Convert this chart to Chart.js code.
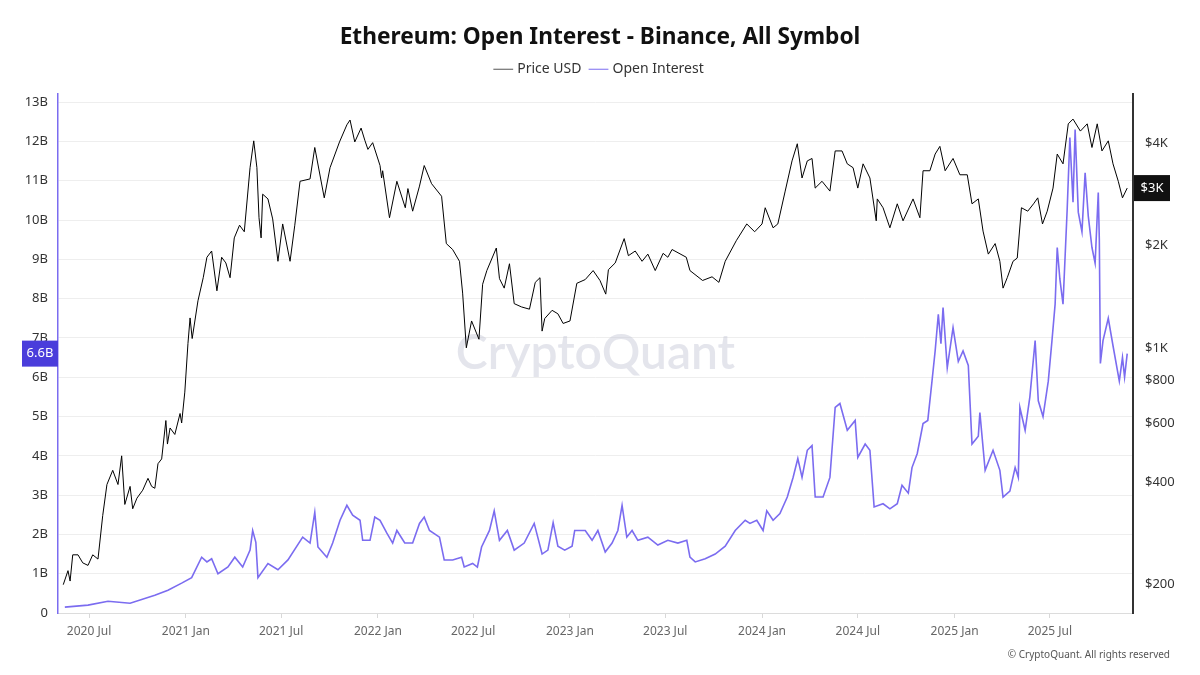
<!DOCTYPE html>
<html lang="en">
<head>
    <meta charset="UTF-8">
    <title>Ethereum: Open Interest - Binance, All Symbol</title>
    <script src="https://cdn.jsdelivr.net/npm/chart.js"></script>
    <style>
        html, body { margin: 0; padding: 0; background: #fff; }
        #wrap { width: 1200px; height: 675px; position: relative; }
    </style>
</head>
<body>
    <div id="wrap"><canvas id="oiChart"></canvas></div>

    <script>
        // ETH price (USD)
        const priceDates = [
            '2020-05-13','2020-05-22','2020-05-26','2020-05-31','2020-06-10','2020-06-19','2020-06-29','2020-07-08','2020-07-18','2020-07-27',
            '2020-08-04','2020-08-15','2020-08-25','2020-09-01','2020-09-07','2020-09-17','2020-09-22','2020-09-30','2020-10-11','2020-10-21',
            '2020-10-28','2020-11-03','2020-11-09','2020-11-16','2020-11-24','2020-11-27','2020-12-02','2020-12-11','2020-12-21','2020-12-24',
            '2020-12-30','2021-01-05','2021-01-09','2021-01-13','2021-01-24','2021-02-03','2021-02-10','2021-02-19','2021-03-01','2021-03-10',
            '2021-03-18','2021-03-26','2021-04-03','2021-04-13','2021-04-22','2021-05-03','2021-05-10','2021-05-16','2021-05-20','2021-05-24',
            '2021-05-27','2021-06-06','2021-06-15','2021-06-25','2021-07-04','2021-07-18','2021-07-27','2021-08-06','2021-08-25','2021-09-03',
            '2021-09-21','2021-10-02','2021-10-20','2021-11-03','2021-11-09','2021-11-18','2021-11-30','2021-12-07','2021-12-13','2021-12-22',
            '2022-01-05','2022-01-08','2022-01-10','2022-01-23','2022-02-06','2022-02-22','2022-02-27','2022-03-08','2022-03-21','2022-03-30',
            '2022-04-13','2022-05-02','2022-05-11','2022-05-23','2022-06-05','2022-06-11','2022-06-18','2022-06-28','2022-07-12','2022-07-19',
            '2022-07-27','2022-08-14','2022-08-20','2022-08-29','2022-09-08','2022-09-17','2022-10-01','2022-10-16','2022-10-27','2022-11-05',
            '2022-11-09','2022-11-14','2022-11-28','2022-12-09','2022-12-19','2023-01-01','2023-01-14','2023-01-30','2023-02-14','2023-02-27',
            '2023-03-10','2023-03-15','2023-03-28','2023-04-14','2023-04-22','2023-05-05','2023-05-18','2023-05-29','2023-06-12','2023-06-27',
            '2023-07-06','2023-07-14','2023-08-10','2023-08-17','2023-09-10','2023-09-28','2023-10-11','2023-10-23','2023-11-13','2023-12-03',
            '2023-12-18','2024-01-01','2024-01-07','2024-01-22','2024-01-31','2024-02-14','2024-02-27','2024-03-08','2024-03-17','2024-03-27',
            '2024-04-05','2024-04-11','2024-04-24','2024-05-09','2024-05-19','2024-06-01','2024-06-11','2024-06-22','2024-07-01','2024-07-11',
            '2024-07-24','2024-08-05','2024-08-07','2024-08-18','2024-08-31','2024-09-14','2024-09-25','2024-10-14','2024-10-27','2024-11-02',
            '2024-11-15','2024-11-25','2024-12-04','2024-12-14','2024-12-29','2025-01-11','2025-01-25','2025-02-03','2025-02-15','2025-02-24',
            '2025-03-06','2025-03-19','2025-03-28','2025-04-03','2025-04-11','2025-04-22','2025-04-30','2025-05-08','2025-05-20','2025-05-31',
            '2025-06-08','2025-06-17','2025-06-26','2025-07-07','2025-07-15','2025-07-26','2025-08-05','2025-08-14','2025-08-28','2025-09-10',
            '2025-09-19','2025-09-29','2025-10-08','2025-10-20','2025-10-29','2025-11-08','2025-11-16','2025-11-25'
        ];
        const priceValues = [
            200, 220, 205, 245, 245, 232, 228, 245, 238, 320,
            395, 435, 395, 480, 345, 390, 335, 360, 380, 412,
            390, 385, 455, 470, 610, 520, 580, 555, 640, 600,
            740, 1030, 1225, 1065, 1376, 1610, 1850, 1930, 1473, 1850,
            1780, 1610, 2110, 2300, 2200, 3400, 4080, 3400, 2420, 2110,
            2840, 2750, 2400, 1800, 2320, 1800, 2300, 3100, 3150, 3900,
            2770, 3400, 4050, 4550, 4700, 4050, 4450, 4100, 3850, 4030,
            3450, 3170, 3330, 2420, 3100, 2590, 2950, 2530, 3000, 3450,
            3050, 2800, 2030, 1950, 1800, 1450, 1000, 1200, 1060, 1540,
            1690, 1970, 1600, 1500, 1770, 1350, 1320, 1300, 1560, 1610,
            1120, 1220, 1290, 1260, 1180, 1200, 1550, 1590, 1690, 1580,
            1440, 1700, 1780, 2100, 1870, 1930, 1800, 1890, 1690, 1900,
            1850, 1950, 1850, 1690, 1580, 1620, 1560, 1800, 2070, 2320,
            2200, 2320, 2590, 2260, 2320, 2900, 3560, 4000, 3170, 3560,
            3620, 2960, 3100, 2900, 3810, 3810, 3490, 3400, 2960, 3490,
            3170, 2370, 2750, 2590, 2260, 2660, 2370, 2750, 2420, 3330,
            3330, 3730, 3930, 3330, 3620, 3240, 3240, 2660, 2750, 2210,
            1890, 2030, 1800, 1500, 1610, 1800, 1840, 2590, 2530, 2660,
            2770, 2320, 2530, 2960, 3730, 3490, 4580, 4730, 4360, 4580,
            3900, 4580, 3810, 4080, 3490, 3100, 2770, 2960
        ];

        // Binance open interest, billions USD
        const oiDates = [
            '2020-05-16','2020-06-29','2020-08-06','2020-09-17','2020-11-03','2020-11-28','2020-12-24','2021-01-12','2021-01-31','2021-02-10',
            '2021-02-19','2021-03-03','2021-03-22','2021-04-04','2021-04-19','2021-05-03','2021-05-08','2021-05-14','2021-05-18','2021-06-06',
            '2021-06-25','2021-07-14','2021-08-11','2021-08-25','2021-09-03','2021-09-09','2021-09-26','2021-10-07','2021-10-21','2021-11-03',
            '2021-11-14','2021-11-28','2021-12-03','2021-12-17','2021-12-26','2022-01-05','2022-01-18','2022-01-29','2022-02-06','2022-02-21',
            '2022-03-08','2022-03-21','2022-03-30','2022-04-09','2022-04-28','2022-05-07','2022-05-23','2022-06-09','2022-06-14','2022-06-30',
            '2022-07-09','2022-07-17','2022-08-01','2022-08-10','2022-08-20','2022-09-04','2022-09-17','2022-10-06','2022-10-25','2022-11-09',
            '2022-11-20','2022-11-30','2022-12-09','2022-12-22','2023-01-05','2023-01-10','2023-01-30','2023-02-12','2023-02-23','2023-03-09',
            '2023-03-22','2023-04-02','2023-04-10','2023-04-19','2023-04-29','2023-05-10','2023-05-29','2023-06-17','2023-07-06','2023-07-25',
            '2023-08-11','2023-08-17','2023-08-27','2023-09-15','2023-10-04','2023-10-23','2023-11-11','2023-11-30','2023-12-09','2023-12-22',
            '2024-01-03','2024-01-10','2024-01-22','2024-02-04','2024-02-18','2024-02-29','2024-03-09','2024-03-17','2024-03-27','2024-04-05',
            '2024-04-11','2024-04-26','2024-05-09','2024-05-19','2024-05-28','2024-06-11','2024-06-26','2024-07-01','2024-07-15','2024-07-24',
            '2024-08-01','2024-08-18','2024-08-31','2024-09-14','2024-09-23','2024-10-05','2024-10-12','2024-10-22','2024-11-02','2024-11-11',
            '2024-11-19','2024-11-25','2024-12-01','2024-12-06','2024-12-10','2024-12-18','2024-12-29','2025-01-08','2025-01-17','2025-01-27',
            '2025-02-03','2025-02-15','2025-02-18','2025-02-28','2025-03-15','2025-03-28','2025-04-03','2025-04-16','2025-04-26','2025-05-02',
            '2025-05-05','2025-05-15','2025-05-24','2025-06-03','2025-06-09','2025-06-18','2025-06-28','2025-07-05','2025-07-11','2025-07-15',
            '2025-07-20','2025-07-26','2025-08-03','2025-08-08','2025-08-14','2025-08-18','2025-08-24','2025-08-31','2025-09-06','2025-09-12',
            '2025-09-19','2025-09-25','2025-10-01','2025-10-03','2025-10-05','2025-10-10','2025-10-20','2025-10-29','2025-11-10','2025-11-16',
            '2025-11-20','2025-11-25'
        ];
        const oiValues = [
            0.15, 0.2, 0.3, 0.25, 0.45, 0.58, 0.76, 0.9, 1.42, 1.3,
            1.38, 1.0, 1.17, 1.42, 1.17, 1.6, 2.1, 1.8, 0.9, 1.26,
            1.1, 1.35, 1.93, 1.78, 2.56, 1.68, 1.42, 1.78, 2.36, 2.74,
            2.49, 2.36, 1.85, 1.85, 2.44, 2.36, 2.03, 1.78, 2.1, 1.78,
            1.78, 2.28, 2.44, 2.1, 1.93, 1.35, 1.35, 1.42, 1.17, 1.26,
            1.17, 1.68, 2.1, 2.6, 1.85, 2.1, 1.6, 1.78, 2.28, 1.5,
            1.6, 2.3, 1.7, 1.6, 1.7, 2.1, 2.1, 1.85, 2.1, 1.55,
            1.78, 2.1, 2.74, 1.93, 2.1, 1.85, 1.93, 1.73, 1.85, 1.78,
            1.85, 1.42, 1.3, 1.38, 1.5, 1.7, 2.1, 2.36, 2.28, 2.36,
            2.1, 2.6, 2.36, 2.53, 2.95, 3.45, 3.93, 3.45, 4.14, 4.26,
            2.95, 2.95, 3.45, 5.23, 5.33, 4.65, 4.9, 3.96, 4.3, 4.14,
            2.7, 2.78, 2.65, 2.78, 3.25, 3.05, 3.7, 4.06, 4.82, 4.9,
            5.9, 6.67, 7.6, 6.85, 7.77, 6.24, 7.26, 6.4, 6.67, 6.3,
            4.3, 4.5, 5.1, 3.63, 4.14, 3.63, 2.95, 3.1, 3.7, 3.45,
            5.23, 4.65, 5.5, 6.93, 5.4, 5.0, 5.9, 6.93, 7.86, 9.3,
            8.5, 7.86, 10.3, 12.1, 10.45, 12.3, 10.2, 9.7, 11.2, 10.1,
            9.3, 8.9, 10.7, 9.5, 6.35, 6.93, 7.5, 6.8, 5.9, 6.5,
            6.0, 6.6
        ];

        const xTickDates = ['2020-07-01','2021-01-01','2021-07-01','2022-01-01','2022-07-01','2023-01-01','2023-07-01','2024-01-01','2024-07-01','2025-01-01','2025-07-01'];
        const xTickLabels = ['2020 Jul','2021 Jan','2021 Jul','2022 Jan','2022 Jul','2023 Jan','2023 Jul','2024 Jan','2024 Jul','2025 Jan','2025 Jul'];
        const oiTicks = [0, 1, 2, 3, 4, 5, 6, 7, 8, 9, 10, 11, 12, 13];
        const priceTicks = [200, 400, 600, 800, 1000, 2000, 4000];

        const day = s => Date.parse(s + 'T00:00:00Z');
        const toPoints = (dates, values) => dates.map((d, i) => ({ x: day(d), y: values[i] }));

        const FONT = "'Noto Sans', sans-serif";
        const OI_COLOR = '#7b6cf0';
        const fmtPrice = v => v >= 1000 ? '$' + Math.round(v / 1000) + 'K' : '$' + v;
        const fmtOi = v => v === 0 ? '0' : v + 'B';

        // watermark, last-value tags, footer, and a bit of room under the legend
        const overlay = {
            id: 'overlay',
            afterInit(chart) {
                const legend = chart.legend;
                const fit = legend.fit.bind(legend);
                legend.fit = function () { fit(); this.height += 8; };
            },
            beforeDatasetsDraw(chart) {
                const { ctx, chartArea } = chart;
                ctx.save();
                ctx.font = '600 48px Lato, ' + FONT;
                ctx.fillStyle = 'rgba(195, 197, 212, 0.45)';
                ctx.textAlign = 'center';
                ctx.textBaseline = 'middle';
                ctx.fillText('CryptoQuant', (chartArea.left + chartArea.right) / 2, (chartArea.top + chartArea.bottom) / 2);
                ctx.restore();
            },
            afterDraw(chart) {
                const { ctx, chartArea, scales } = chart;
                ctx.save();
                ctx.font = '13px ' + FONT;
                ctx.textAlign = 'center';
                ctx.textBaseline = 'middle';

                const lastOi = oiValues[oiValues.length - 1];
                const yOi = scales.oi.getPixelForValue(lastOi);
                ctx.fillStyle = '#4a3ddb';
                ctx.fillRect(chartArea.left - 36, yOi - 13, 36, 26);
                ctx.fillStyle = '#fff';
                ctx.fillText(lastOi + 'B', chartArea.left - 18, yOi);

                const lastPrice = priceValues[priceValues.length - 1];
                const yP = scales.price.getPixelForValue(lastPrice);
                ctx.fillStyle = '#111';
                ctx.fillRect(chartArea.right + 1, yP - 13, 36, 26);
                ctx.fillStyle = '#fff';
                ctx.fillText(fmtPrice(lastPrice), chartArea.right + 19, yP);

                ctx.font = '10px ' + FONT;
                ctx.fillStyle = '#555';
                ctx.textAlign = 'right';
                ctx.fillText('\u00A9 CryptoQuant. All rights reserved', 1170, 655);
                ctx.restore();
            }
        };

        new Chart(document.getElementById('oiChart'), {
            type: 'line',
            data: {
                datasets: [{
                    label: 'Price USD',
                    data: toPoints(priceDates, priceValues),
                    yAxisID: 'price',
                    borderColor: '#000',
                    borderWidth: 1,
                    pointRadius: 0,
                    tension: 0
                }, {
                    label: 'Open Interest',
                    data: toPoints(oiDates, oiValues),
                    yAxisID: 'oi',
                    borderColor: OI_COLOR,
                    borderWidth: 1.6,
                    pointRadius: 0,
                    tension: 0
                }]
            },
            options: {
                responsive: true,
                maintainAspectRatio: false,
                animation: false,
                layout: { padding: { left: 0, right: 0, top: 0, bottom: 32 } },
                plugins: {
                    title: {
                        display: true,
                        text: 'Ethereum: Open Interest - Binance, All Symbol',
                        color: '#111',
                        font: { family: FONT, size: 22.7, weight: 'bold' },
                        padding: { top: 24, bottom: 1 }
                    },
                    legend: {
                        labels: {
                            color: '#333',
                            font: { family: FONT, size: 14 },
                            usePointStyle: true,
                            pointStyle: 'line',
                            boxWidth: 14,
                            padding: 10,
                            generateLabels: chart => chart.data.datasets.map((ds, i) => ({
                                text: ds.label,
                                strokeStyle: i === 0 ? '#555' : OI_COLOR,
                                fillStyle: 'transparent',
                                lineWidth: 1,
                                pointStyle: 'line',
                                fontColor: '#333',
                                datasetIndex: i
                            }))
                        }
                    },
                    tooltip: { enabled: false }
                },
                scales: {
                    x: {
                        type: 'linear',
                        min: day('2020-05-03'),
                        max: day('2025-12-06'),
                        afterBuildTicks: s => { s.ticks = xTickDates.map(d => ({ value: day(d) })); },
                        afterFit: s => { s.height = 30; },
                        ticks: {
                            callback: (v, i) => xTickLabels[i],
                            color: '#666',
                            font: { family: FONT, size: 12 },
                            maxRotation: 0,
                            padding: 6
                        },
                        grid: { drawOnChartArea: false, drawTicks: true, tickLength: 5, color: '#d8d8d8' },
                        border: { color: '#dcdcdc' }
                    },
                    oi: {
                        type: 'linear',
                        position: 'left',
                        min: 0,
                        max: 13.2,
                        afterBuildTicks: s => { s.ticks = oiTicks.map(v => ({ value: v })); },
                        afterFit: s => { s.width = 58; },
                        ticks: {
                            callback: v => fmtOi(v),
                            color: '#333',
                            font: { family: FONT, size: 13 },
                            padding: 10
                        },
                        grid: { color: '#eeeeee', drawTicks: false },
                        border: { color: OI_COLOR, width: 1.5 }
                    },
                    price: {
                        type: 'logarithmic',
                        position: 'right',
                        min: 165,
                        max: 5600,
                        afterBuildTicks: s => { s.ticks = priceTicks.map(v => ({ value: v })); },
                        afterFit: s => { s.width = 67; },
                        ticks: {
                            callback: v => fmtPrice(v),
                            color: '#333',
                            font: { family: FONT, size: 13 },
                            padding: 12
                        },
                        grid: { drawOnChartArea: false, drawTicks: false },
                        border: { color: '#333', width: 2 }
                    }
                }
            },
            plugins: [overlay]
        });
    </script>
</body>
</html>
